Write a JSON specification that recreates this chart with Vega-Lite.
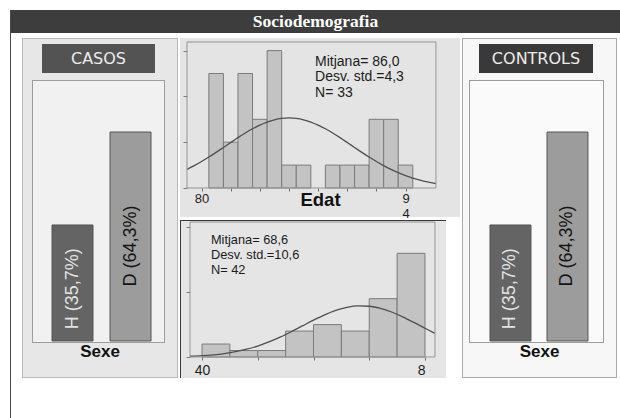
{
  "$schema": "https://vega.github.io/schema/vega-lite/v6.json",
  "background": "#ffffff",
  "padding": {"left": 10, "top": 10, "right": 0, "bottom": 0},
  "config": {"view": {"stroke": null}, "concat": {"spacing": 0}, "font": "Liberation Sans"},
  "datasets": {
    "sexe": [
      {"sexe": "H", "percentatge": 35.7, "etiqueta": "H (35,7%)"},
      {"sexe": "D", "percentatge": 64.3, "etiqueta": "D (64,3%)"}
    ],
    "edat_n33": [
      {"inici": 80.5, "fi": 81.5, "n": 5},
      {"inici": 81.5, "fi": 82.5, "n": 2},
      {"inici": 82.5, "fi": 83.5, "n": 5},
      {"inici": 83.5, "fi": 84.5, "n": 3},
      {"inici": 84.5, "fi": 85.5, "n": 6},
      {"inici": 85.5, "fi": 86.5, "n": 1},
      {"inici": 86.5, "fi": 87.5, "n": 1},
      {"inici": 88.5, "fi": 89.5, "n": 1},
      {"inici": 89.5, "fi": 90.5, "n": 1},
      {"inici": 90.5, "fi": 91.5, "n": 1},
      {"inici": 91.5, "fi": 92.5, "n": 3},
      {"inici": 92.5, "fi": 93.5, "n": 3},
      {"inici": 93.5, "fi": 94.5, "n": 1}
    ],
    "corba_n33": [
      {"edat": 79.0, "densitat": 0.814}, {"edat": 79.5, "densitat": 0.977},
      {"edat": 80.0, "densitat": 1.157}, {"edat": 80.5, "densitat": 1.351},
      {"edat": 81.0, "densitat": 1.557}, {"edat": 81.5, "densitat": 1.771},
      {"edat": 82.0, "densitat": 1.986}, {"edat": 82.5, "densitat": 2.198},
      {"edat": 83.0, "densitat": 2.400}, {"edat": 83.5, "densitat": 2.586},
      {"edat": 84.0, "densitat": 2.748}, {"edat": 84.5, "densitat": 2.881},
      {"edat": 85.0, "densitat": 2.980}, {"edat": 85.5, "densitat": 3.041},
      {"edat": 86.0, "densitat": 3.062}, {"edat": 86.5, "densitat": 3.041},
      {"edat": 87.0, "densitat": 2.980}, {"edat": 87.5, "densitat": 2.881},
      {"edat": 88.0, "densitat": 2.748}, {"edat": 88.5, "densitat": 2.586},
      {"edat": 89.0, "densitat": 2.400}, {"edat": 89.5, "densitat": 2.198},
      {"edat": 90.0, "densitat": 1.986}, {"edat": 90.5, "densitat": 1.771},
      {"edat": 91.0, "densitat": 1.557}, {"edat": 91.5, "densitat": 1.351},
      {"edat": 92.0, "densitat": 1.157}, {"edat": 92.5, "densitat": 0.977},
      {"edat": 93.0, "densitat": 0.814}, {"edat": 93.5, "densitat": 0.669},
      {"edat": 94.0, "densitat": 0.543}, {"edat": 94.5, "densitat": 0.434},
      {"edat": 95.0, "densitat": 0.343}, {"edat": 95.5, "densitat": 0.267},
      {"edat": 96.09, "densitat": 0.195}
    ],
    "edat_n42": [
      {"inici": 40, "fi": 45, "n": 2},
      {"inici": 45, "fi": 50, "n": 1},
      {"inici": 50, "fi": 55, "n": 1},
      {"inici": 55, "fi": 60, "n": 4},
      {"inici": 60, "fi": 65, "n": 5},
      {"inici": 65, "fi": 70, "n": 4},
      {"inici": 70, "fi": 75, "n": 9},
      {"inici": 75, "fi": 80, "n": 16}
    ],
    "corba_n42": [
      {"edat": 37.85, "densitat": 0.118}, {"edat": 40, "densitat": 0.208},
      {"edat": 42, "densitat": 0.339}, {"edat": 44, "densitat": 0.535},
      {"edat": 46, "densitat": 0.814}, {"edat": 48, "densitat": 1.197},
      {"edat": 50, "densitat": 1.695}, {"edat": 52, "densitat": 2.319},
      {"edat": 54, "densitat": 3.061}, {"edat": 56, "densitat": 3.900},
      {"edat": 58, "densitat": 4.794}, {"edat": 60, "densitat": 5.688},
      {"edat": 62, "densitat": 6.511}, {"edat": 64, "densitat": 7.193},
      {"edat": 66, "densitat": 7.670}, {"edat": 68, "densitat": 7.891},
      {"edat": 70, "densitat": 7.835}, {"edat": 72, "densitat": 7.507},
      {"edat": 74, "densitat": 6.942}, {"edat": 76, "densitat": 6.195},
      {"edat": 78, "densitat": 5.334}, {"edat": 80, "densitat": 4.433},
      {"edat": 81.79, "densitat": 3.644}
    ]
  },
  "hconcat": [
    {"width": 1, "height": 408, "view": {"fill": "#4a4a4a"}, "data": {"values": []}, "mark": "rect"},
    {
      "spacing": 5,
      "vconcat": [
        {
          "width": 609, "height": 23,
          "view": {"fill": "#3d3d3d"},
          "data": {"values": [{"titol": "Sociodemografia"}]},
          "mark": {"type": "text", "font": "Liberation Serif", "fontSize": 17.5, "fontWeight": "bold", "color": "#ffffff"},
          "encoding": {"text": {"field": "titol", "type": "nominal"}}
        },
        {
          "spacing": 2,
          "hconcat": [
            {"width": 9, "height": 1, "view": {"fill": "#ffffff"}, "data": {"values": []}, "mark": "rect"},
            {
              "hconcat": [
                {"width": 1, "height": 340, "view": {"fill": "#b9b9b9"}, "data": {"values": []}, "mark": "rect"},
                {
                  "vconcat": [
                    {"width": 154, "height": 1, "view": {"fill": "#b9b9b9"}, "data": {"values": []}, "mark": "rect"},
                    {"width": 154, "height": 5, "view": {"fill": "#e7e7e7"}, "data": {"values": []}, "mark": "rect"},
                    {
                      "hconcat": [
                        {"width": 19, "height": 29, "view": {"fill": "#e7e7e7"}, "data": {"values": []}, "mark": "rect"},
                        {
                          "width": 113, "height": 29,
                          "view": {"fill": "#535353"},
                          "data": {"values": [{"grup": "CASOS"}]},
                          "mark": {"type": "text", "font": "DejaVu Sans", "fontSize": 16, "color": "#ececec"},
                          "encoding": {"text": {"field": "grup", "type": "nominal"}}
                        },
                        {"width": 22, "height": 29, "view": {"fill": "#e7e7e7"}, "data": {"values": []}, "mark": "rect"}
                      ]
                    },
                    {"width": 154, "height": 7, "view": {"fill": "#e7e7e7"}, "data": {"values": []}, "mark": "rect"},
                    {
                      "hconcat": [
                        {"width": 9, "height": 263, "view": {"fill": "#e7e7e7"}, "data": {"values": []}, "mark": "rect"},
                        {"width": 1, "height": 263, "view": {"fill": "#9d9d9d"}, "data": {"values": []}, "mark": "rect"},
                        {
                          "vconcat": [
                            {"width": 131, "height": 1, "view": {"fill": "#9d9d9d"}, "data": {"values": []}, "mark": "rect"},
                            {
                              "width": 131, "height": 261,
                              "view": {"fill": "#f1f1f1"},
                              "data": {"name": "sexe"},
                              "encoding": {
                                "x": {"field": "sexe", "type": "nominal", "sort": ["H", "D"],
                                      "scale": {"paddingInner": 0.293, "paddingOuter": 0.276, "align": 0.594}, "axis": null}
                              },
                              "layer": [
                                {
                                  "mark": {"type": "bar", "stroke": "#555555", "strokeWidth": 1},
                                  "encoding": {
                                    "y": {"field": "percentatge", "type": "quantitative",
                                          "scale": {"domain": [-0.31, 80], "nice": false, "zero": false}, "axis": null},
                                    "y2": {"datum": 0},
                                    "color": {"field": "sexe", "type": "nominal",
                                              "scale": {"domain": ["H", "D"], "range": ["#646464", "#9c9c9c"]}, "legend": null}
                                  }
                                },
                                {
                                  "mark": {"type": "text", "angle": 270, "fontSize": 18},
                                  "encoding": {
                                    "y": {"field": "percentatge", "type": "quantitative",
                                          "scale": {"domain": [0, 175], "nice": false}, "axis": null},
                                    "text": {"field": "etiqueta", "type": "nominal"},
                                    "color": {"condition": {"test": "datum.sexe === 'H'", "value": "#e2e2e2"}, "value": "#141414"}
                                  }
                                }
                              ],
                              "resolve": {"scale": {"y": "independent"}}
                            },
                            {"width": 131, "height": 1, "view": {"fill": "#9d9d9d"}, "data": {"values": []}, "mark": "rect"}
                          ]
                        },
                        {"width": 1, "height": 263, "view": {"fill": "#9d9d9d"}, "data": {"values": []}, "mark": "rect"},
                        {"width": 12, "height": 263, "view": {"fill": "#e7e7e7"}, "data": {"values": []}, "mark": "rect"}
                      ]
                    },
                    {
                      "width": 154, "height": 18,
                      "view": {"fill": "#e7e7e7"},
                      "data": {"values": [{"eix": "Sexe"}]},
                      "mark": {"type": "text", "fontSize": 17, "fontWeight": "bold", "color": "#111111"},
                      "encoding": {"text": {"field": "eix", "type": "nominal"}}
                    },
                    {"width": 154, "height": 16, "view": {"fill": "#e7e7e7"}, "data": {"values": []}, "mark": "rect"},
                    {"width": 154, "height": 1, "view": {"fill": "#b9b9b9"}, "data": {"values": []}, "mark": "rect"}
                  ]
                },
                {"width": 1, "height": 340, "view": {"fill": "#b9b9b9"}, "data": {"values": []}, "mark": "rect"}
              ]
            },
            {
              "vconcat": [
                {
                  "width": 280, "height": 179,
                  "view": {"fill": "#e4e4e4"},
                  "layer": [
                    {
                      "data": {"name": "edat_n33"},
                      "mark": {"type": "rect", "fill": "#c3c3c3", "stroke": "#7b7b7b", "strokeWidth": 1},
                      "encoding": {
                        "x": {
                          "field": "inici", "type": "quantitative", "title": "Edat",
                          "scale": {"domain": [78.52, 97.74], "nice": false, "zero": false},
                          "axis": {
                            "orient": "bottom", "offset": -29, "values": [80, 82, 84, 86, 88, 90, 92, 94],
                            "domain": false, "grid": false, "tickSize": 3, "tickColor": "#6f6f6f",
                            "labelExpr": "datum.value == 80 ? '80' : datum.value == 94 ? '9' : ''",
                            "labelFontSize": 13, "labelColor": "#1e1e1e", "labelPadding": 1, "labelBaseline": "top",
                            "labelOverlap": false, "labelBound": false, "labelFlush": false,
                            "titleFontSize": 18.5, "titleFontWeight": "bold", "titleColor": "#111111",
                            "titleY": 17, "titleBaseline": "alphabetic"
                          }
                        },
                        "x2": {"field": "fi"},
                        "y": {
                          "field": "n", "type": "quantitative", "title": null,
                          "scale": {"domain": [-1.2664, 6.5502], "nice": false, "zero": false},
                          "axis": {
                            "orient": "left", "offset": -7, "values": [0, 1, 2, 3, 4, 5, 6], "labels": false,
                            "domain": false, "grid": false, "tickSize": 4, "tickColor": "#7a7a7a"
                          }
                        },
                        "y2": {"datum": 0}
                      }
                    },
                    {
                      "data": {"name": "corba_n33"},
                      "mark": {"type": "line", "color": "#4f4f4f", "strokeWidth": 1.3, "interpolate": "monotone"},
                      "encoding": {
                        "x": {
                          "field": "edat", "type": "quantitative", "title": null,
                          "axis": {
                            "orient": "bottom", "offset": -29, "values": [94], "ticks": false, "domain": false, "grid": false,
                            "labelExpr": "'4'", "labelFontSize": 13, "labelColor": "#1e1e1e", "labelPadding": 19,
                            "labelBaseline": "top", "labelOverlap": false, "labelBound": false, "labelFlush": false
                          }
                        },
                        "y": {"field": "densitat", "type": "quantitative", "title": null}
                      }
                    },
                    {
                      "data": {"values": [{}]},
                      "mark": {"type": "rect", "filled": false, "stroke": "#959595", "strokeWidth": 1},
                      "encoding": {
                        "x": {"datum": 79.0, "type": "quantitative", "axis": null},
                        "x2": {"datum": 96.09},
                        "y": {"datum": 0, "type": "quantitative"},
                        "y2": {"datum": 6.376}
                      }
                    },
                    {
                      "data": {"values": [{}]},
                      "mark": {"type": "text", "text": ["Mitjana= 86,0", "Desv. std.=4,3", "N= 33"],
                               "align": "left", "baseline": "top", "fontSize": 14, "lineHeight": 15.5, "color": "#1c1c1c"},
                      "encoding": {
                        "x": {"datum": 87.79, "type": "quantitative", "axis": null},
                        "y": {"datum": 5.81, "type": "quantitative"}
                      }
                    }
                  ],
                  "resolve": {"axis": {"x": "independent"}}
                },
                {
                  "hconcat": [
                    {"width": 1, "height": 158, "view": {"fill": "#3a3a3a"}, "data": {"values": []}, "mark": "rect"},
                    {
                      "vconcat": [
                        {"width": 265, "height": 1, "view": {"fill": "#3a3a3a"}, "data": {"values": []}, "mark": "rect"},
                        {
                          "width": 265, "height": 157,
                          "view": {"fill": "#e5e5e5"},
                          "layer": [
                            {
                              "data": {"name": "edat_n42"},
                              "mark": {"type": "rect", "fill": "#c3c3c3", "stroke": "#7b7b7b", "strokeWidth": 1},
                              "encoding": {
                                "x": {
                                  "field": "inici", "type": "quantitative", "title": null,
                                  "scale": {"domain": [36.233, 83.767], "nice": false, "zero": false},
                                  "axis": {
                                    "orient": "bottom", "offset": -21, "values": [40, 50, 60, 70, 80],
                                    "domain": false, "grid": false, "tickSize": 3, "tickColor": "#6f6f6f",
                                    "labelExpr": "datum.value == 40 ? '40' : datum.value == 80 ? '8' : ''",
                                    "labelAlign": {"condition": {"test": "datum.value == 80", "value": "right"}, "value": "center"},
                                    "labelFontSize": 14, "labelColor": "#1e1e1e", "labelPadding": 3, "labelBaseline": "top",
                                    "labelOverlap": false, "labelBound": false, "labelFlush": false
                                  }
                                },
                                "x2": {"field": "fi"},
                                "y": {
                                  "field": "n", "type": "quantitative", "title": null,
                                  "scale": {"domain": [-3.241, 20.988], "nice": false, "zero": false},
                                  "axis": {
                                    "orient": "left", "offset": -9, "values": [0, 5, 10, 15, 20], "labels": false,
                                    "domain": false, "grid": false, "tickSize": 4, "tickColor": "#7a7a7a"
                                  }
                                },
                                "y2": {"datum": 0}
                              }
                            },
                            {
                              "data": {"name": "corba_n42"},
                              "mark": {"type": "line", "color": "#4f4f4f", "strokeWidth": 1.3, "interpolate": "monotone"},
                              "encoding": {
                                "x": {"field": "edat", "type": "quantitative", "title": null},
                                "y": {"field": "densitat", "type": "quantitative", "title": null}
                              }
                            },
                            {
                              "data": {"values": [{}]},
                              "mark": {"type": "rect", "filled": false, "stroke": "#959595", "strokeWidth": 1},
                              "encoding": {
                                "x": {"datum": 37.85, "type": "quantitative"},
                                "x2": {"datum": 81.79},
                                "y": {"datum": 0, "type": "quantitative"},
                                "y2": {"datum": 20.83}
                              }
                            },
                            {
                              "data": {"values": [{}]},
                              "mark": {"type": "text", "text": ["Mitjana= 68,6", "Desv. std.=10,6", "N= 42"],
                                       "align": "left", "baseline": "top", "fontSize": 12.8, "lineHeight": 15, "color": "#1c1c1c"},
                              "encoding": {
                                "x": {"datum": 41.6, "type": "quantitative"},
                                "y": {"datum": 18.98, "type": "quantitative"}
                              }
                            }
                          ]
                        }
                      ]
                    }
                  ]
                }
              ]
            },
            {
              "hconcat": [
                {"width": 1, "height": 340, "view": {"fill": "#a9a9a9"}, "data": {"values": []}, "mark": "rect"},
                {
                  "vconcat": [
                    {"width": 153, "height": 1, "view": {"fill": "#a9a9a9"}, "data": {"values": []}, "mark": "rect"},
                    {"width": 153, "height": 5, "view": {"fill": "#f7f7f7"}, "data": {"values": []}, "mark": "rect"},
                    {
                      "hconcat": [
                        {"width": 16, "height": 29, "view": {"fill": "#f7f7f7"}, "data": {"values": []}, "mark": "rect"},
                        {
                          "width": 114, "height": 29,
                          "view": {"fill": "#393939"},
                          "data": {"values": [{"grup": "CONTROLS"}]},
                          "mark": {"type": "text", "font": "DejaVu Sans", "fontSize": 16, "color": "#ececec"},
                          "encoding": {"text": {"field": "grup", "type": "nominal"}}
                        },
                        {"width": 23, "height": 29, "view": {"fill": "#f7f7f7"}, "data": {"values": []}, "mark": "rect"}
                      ]
                    },
                    {"width": 153, "height": 7, "view": {"fill": "#f7f7f7"}, "data": {"values": []}, "mark": "rect"},
                    {
                      "hconcat": [
                        {"width": 6, "height": 263, "view": {"fill": "#f7f7f7"}, "data": {"values": []}, "mark": "rect"},
                        {"width": 1, "height": 263, "view": {"fill": "#9d9d9d"}, "data": {"values": []}, "mark": "rect"},
                        {
                          "vconcat": [
                            {"width": 133, "height": 1, "view": {"fill": "#9d9d9d"}, "data": {"values": []}, "mark": "rect"},
                            {
                              "width": 133, "height": 261,
                              "view": {"fill": "#fafafa"},
                              "data": {"name": "sexe"},
                              "encoding": {
                                "x": {"field": "sexe", "type": "nominal", "sort": ["H", "D"],
                                      "scale": {"paddingInner": 0.281, "paddingOuter": 0.307, "align": 0.571}, "axis": null}
                              },
                              "layer": [
                                {
                                  "mark": {"type": "bar", "stroke": "#555555", "strokeWidth": 1},
                                  "encoding": {
                                    "y": {"field": "percentatge", "type": "quantitative",
                                          "scale": {"domain": [-0.31, 80], "nice": false, "zero": false}, "axis": null},
                                    "y2": {"datum": 0},
                                    "color": {"field": "sexe", "type": "nominal",
                                              "scale": {"domain": ["H", "D"], "range": ["#646464", "#9c9c9c"]}, "legend": null}
                                  }
                                },
                                {
                                  "mark": {"type": "text", "angle": 270, "fontSize": 18},
                                  "encoding": {
                                    "y": {"field": "percentatge", "type": "quantitative",
                                          "scale": {"domain": [0, 175], "nice": false}, "axis": null},
                                    "text": {"field": "etiqueta", "type": "nominal"},
                                    "color": {"condition": {"test": "datum.sexe === 'H'", "value": "#e2e2e2"}, "value": "#141414"}
                                  }
                                }
                              ],
                              "resolve": {"scale": {"y": "independent"}}
                            },
                            {"width": 133, "height": 1, "view": {"fill": "#9d9d9d"}, "data": {"values": []}, "mark": "rect"}
                          ]
                        },
                        {"width": 1, "height": 263, "view": {"fill": "#9d9d9d"}, "data": {"values": []}, "mark": "rect"},
                        {"width": 12, "height": 263, "view": {"fill": "#f7f7f7"}, "data": {"values": []}, "mark": "rect"}
                      ]
                    },
                    {
                      "width": 153, "height": 18,
                      "view": {"fill": "#f7f7f7"},
                      "data": {"values": [{"eix": "Sexe"}]},
                      "mark": {"type": "text", "fontSize": 17, "fontWeight": "bold", "color": "#111111"},
                      "encoding": {"text": {"field": "eix", "type": "nominal"}}
                    },
                    {"width": 153, "height": 16, "view": {"fill": "#f7f7f7"}, "data": {"values": []}, "mark": "rect"},
                    {"width": 153, "height": 1, "view": {"fill": "#a9a9a9"}, "data": {"values": []}, "mark": "rect"}
                  ]
                },
                {"width": 1, "height": 340, "view": {"fill": "#a9a9a9"}, "data": {"values": []}, "mark": "rect"}
              ]
            }
          ]
        }
      ]
    }
  ]
}
